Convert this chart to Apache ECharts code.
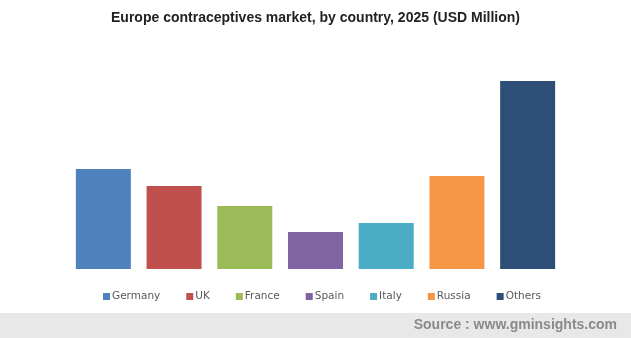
<!DOCTYPE html>
<html><head><meta charset="utf-8">
<script src="https://cdn.jsdelivr.net/npm/echarts@6/dist/echarts.min.js"></script>
<style>html,body{margin:0;padding:0;background:#fff}#c{width:631px;height:338px}</style>
</head><body><div id="c"></div>
<script>
const categories = ['Germany','UK','France','Spain','Italy','Russia','Others'];
const values = [100, 83, 63, 37, 46, 93, 188];
const colors = ['#4f81bd','#c0504d','#9bbb59','#8064a2','#4bacc6','#f79646','#2c4e77'];
const titleText = 'Europe contraceptives market, by country, 2025 (USD Million)';
const sourceText = 'Source : www.gminsights.com';

const chart = echarts.init(document.getElementById('c'), null, {renderer:'canvas'});
const series = categories.map((name, i) => ({
  name: name,
  type: 'bar',
  stack: 'all',
  barWidth: 55,
  itemStyle: {color: colors[i]},
  data: categories.map((c, j) => j === i ? values[i] : '-')
}));
chart.setOption({
  animation: false,
  title: {
    text: titleText,
    left: 'center', top: 6,
    textStyle: {fontFamily: 'Liberation Sans', fontWeight: 'bold', fontSize: 14, color: '#222'}
  },
  legend: {
    data: categories,
    top: 286, left: 98,
    itemWidth: 7, itemHeight: 7, itemGap: 26,
    icon: 'rect',
    textStyle: {fontFamily: 'DejaVu Sans', fontSize: 10.5, color: '#595959', padding: [0,0,0,-3]}
  },
  grid: {left: 68, right: 68, top: 69, bottom: 69},
  xAxis: {
    type: 'category', data: categories,
    axisLine: {show: false}, axisTick: {show: false}, axisLabel: {show: false}
  },
  yAxis: {
    type: 'value', min: 0, max: 200,
    axisLine: {show: false}, axisTick: {show: false}, axisLabel: {show: false},
    splitLine: {show: false}
  },
  graphic: [
    {type: 'rect', left: 0, top: 313, shape: {width: 631, height: 25}, style: {fill: '#e8e8e8'}, z: -1},
    {type: 'text', right: 14, top: 318, style: {text: sourceText, fontFamily: 'Liberation Sans', fontWeight: 'bold', fontSize: 14, fill: '#8a8a8a'}}
  ],
  series: series
});
</script></body></html>
